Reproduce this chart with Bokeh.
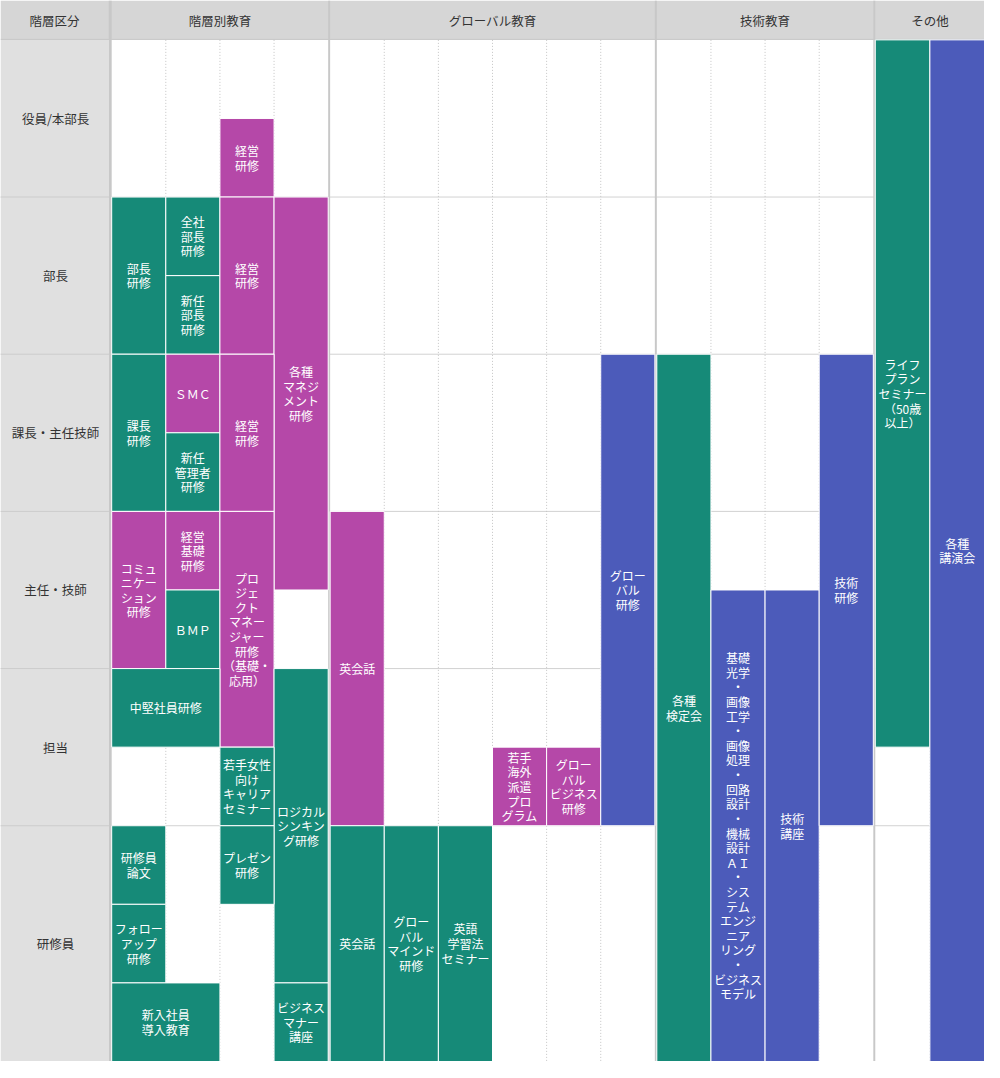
from bokeh.plotting import figure
from bokeh.models import Range1d, ColumnDataSource
from bokeh.core.properties import value
from bokeh.embed import file_html
from bokeh.resources import INLINE

# ---------------- data ----------------
row_labels = ["役員/本部長", "部長", "課長・主任技師", "主任・技師", "担当", "研修員"]
row_units = [2, 2, 2, 2, 2, 3]          # height of each row in half-row units
group_names = ["階層別教育", "グローバル教育", "技術教育", "その他"]
group_ncols = [4, 6, 4, 2]
corner_label = "階層区分"

# block: group, column, column span, start unit, unit span, kind, label
blk_group = [0, 0, 0, 0, 0, 0, 0, 0, 0, 0, 0, 0, 0, 0, 0, 0, 0, 0, 0, 0, 0, 0,
             1, 1, 1, 1, 1, 1, 1,
             2, 2, 2, 2,
             3, 3]
blk_col = [2, 0, 1, 1, 2, 3, 0, 1, 1, 2, 0, 1, 1, 2, 0, 3, 2, 0, 2, 0, 0, 3,
           0, 0, 1, 2, 3, 4, 5,
           0, 1, 2, 3,
           0, 1]
blk_span = [1, 1, 1, 1, 1, 1, 1, 1, 1, 1, 1, 1, 1, 1, 2, 1, 1, 1, 1, 1, 2, 1,
            1, 1, 1, 1, 1, 1, 1,
            1, 1, 1, 1,
            1, 1]
blk_start = [1, 2, 2, 3, 2, 2, 4, 4, 5, 4, 6, 6, 7, 6, 8, 8, 9, 10, 10, 11, 12, 12,
             6, 10, 10, 10, 9, 9, 4,
             4, 7, 7, 4,
             0, 0]
blk_len = [1, 2, 1, 1, 2, 5, 2, 1, 1, 2, 2, 1, 1, 3, 1, 4, 1, 1, 1, 1, 1, 1,
           4, 3, 3, 3, 1, 1, 6,
           9, 6, 6, 6,
           9, 13]
blk_kind = ["m", "t", "t", "t", "m", "m", "t", "m", "t", "m", "m", "m", "t", "m", "t", "t", "t", "t", "t", "t", "t", "t",
            "m", "t", "t", "t", "m", "m", "b",
            "t", "b", "b", "b",
            "t", "b"]
blk_label = [
    "経営\n研修", "部長\n研修", "全社\n部長\n研修", "新任\n部長\n研修", "経営\n研修",
    "各種\nマネジ\nメント\n研修", "課長\n研修", "ＳＭＣ", "新任\n管理者\n研修", "経営\n研修",
    "コミュ\nニケー\nション\n研修", "経営\n基礎\n研修", "ＢＭＰ",
    "プロ\nジェ\nクト\nマネー\nジャー\n研修\n（基礎・\n応用）",
    "中堅社員研修", "ロジカル\nシンキン\nグ研修", "若手女性\n向け\nキャリア\nセミナー",
    "研修員\n論文", "プレゼン\n研修", "フォロー\nアップ\n研修", "新入社員\n導入教育",
    "ビジネス\nマナー\n講座",
    "英会話", "英会話", "グロー\nバル\nマインド\n研修", "英語\n学習法\nセミナー",
    "若手\n海外\n派遣\nプロ\nグラム", "グロー\nバル\nビジネス\n研修", "グロー\nバル\n研修",
    "各種\n検定会",
    "基礎\n光学\n・\n画像\n工学\n・\n画像\n処理\n・\n回路\n設計\n・\n機械\n設計\nＡＩ\n・\nシス\nテム\nエンジ\nニア\nリング\n・\nビジネス\nモデル",
    "技術\n講座", "技術\n研修",
    "ライフ\nプラン\nセミナー\n（50歳\n以上）", "各種\n講演会",
]

# ---------------- layout / style ----------------
COLORS = {"t": "#168a78", "m": "#b548a8", "b": "#4c5bba"}
FONT = value("Noto Sans CJK JP")
W_REF, H_REF = 1000, 1078
HEAD_H = 40
LABEL_W = 110
group_x = [(113, 333), (335, 665), (667, 887), (889, 1000)]
seps = [(110, 113), (333, 335), (665, 667), (887, 889)]
total_units = sum(row_units)
unit_h = (H_REF - HEAD_H) / total_units

def uy(u):
    return HEAD_H + u * unit_h

def colx(g, c):
    x0, x1 = group_x[g]
    return x0 + c * (x1 - x0) / group_ncols[g]

p = figure(width=984, height=1061, x_range=Range1d(0, W_REF), y_range=Range1d(H_REF, 0),
           output_backend="svg", toolbar_location=None, min_border=0)
p.axis.visible = False
p.grid.visible = False
p.outline_line_color = None
p.background_fill_color = "white"
p.border_fill_color = "white"

# row boundaries
bounds = [0]
for r in row_units:
    bounds.append(bounds[-1] + r)

# horizontal row lines
hy = [uy(b) for b in bounds[1:-1]]
p.segment(x0=[0] * len(hy), x1=[W_REF] * len(hy), y0=hy, y1=hy, line_color="#d2d2d2", line_width=1)

# dotted column lines inside groups
dx0, dy0, dy1 = [], [], []
for g, n in enumerate(group_ncols):
    for c in range(1, n):
        dx0.append(colx(g, c))
        dy0.append(HEAD_H)
        dy1.append(H_REF)
p.segment(x0=dx0, x1=dx0, y0=dy0, y1=dy1, line_color="#c4c4c4", line_width=1, line_dash="1 2")

# label column
p.quad(left=[0], right=[LABEL_W], top=[HEAD_H], bottom=[H_REF], fill_color="#e0e0e0", line_color=None)
p.segment(x0=[0] * len(hy), x1=[LABEL_W] * len(hy), y0=hy, y1=hy, line_color="#cccccc", line_width=1)

# header
p.quad(left=[0], right=[W_REF], top=[0], bottom=[HEAD_H], fill_color="#d6d6d6", line_color=None)
p.segment(x0=[0], x1=[W_REF], y0=[HEAD_H - 0.5], y1=[HEAD_H - 0.5], line_color="#c6c6c6", line_width=1)

# group separators
p.quad(left=[s[0] for s in seps], right=[s[1] for s in seps], top=[0] * len(seps), bottom=[H_REF] * len(seps),
       fill_color="#c8c8c8", line_color=None)

# blocks
src = ColumnDataSource(dict(
    left=[colx(g, c) for g, c in zip(blk_group, blk_col)],
    right=[colx(g, c + s) for g, c, s in zip(blk_group, blk_col, blk_span)],
    top=[uy(s) for s in blk_start],
    bottom=[uy(s + l) for s, l in zip(blk_start, blk_len)],
    color=[COLORS[k] for k in blk_kind],
    label=blk_label,
))
src.data["cx"] = [(a + b) / 2 for a, b in zip(src.data["left"], src.data["right"])]
src.data["cy"] = [(a + b) / 2 for a, b in zip(src.data["top"], src.data["bottom"])]
p.quad(left="left", right="right", top="top", bottom="bottom", fill_color="color",
       line_color="white", line_width=1, source=src)
p.text(x="cx", y="cy", text="label", source=src, text_align="center", text_baseline="middle",
       text_color="white", text_font=FONT, text_font_size="12px", text_line_height=0.86)

# header texts
hx = [LABEL_W / 2] + [(a + b) / 2 for a, b in group_x]
p.text(x=hx, y=[HEAD_H / 2] * len(hx), text=[corner_label] + group_names, text_align="center",
       text_baseline="middle", text_color="#333333", text_font=FONT, text_font_size="12.5px")

# row labels
ry = [(uy(a) + uy(b)) / 2 for a, b in zip(bounds[:-1], bounds[1:])]
p.text(x=[LABEL_W / 2 + 1] * len(ry), y=ry, text=row_labels, text_align="center", text_baseline="middle",
       text_color="#333333", text_font=FONT, text_font_size="12.5px")

open("out.html", "w").write(file_html(p, INLINE))
